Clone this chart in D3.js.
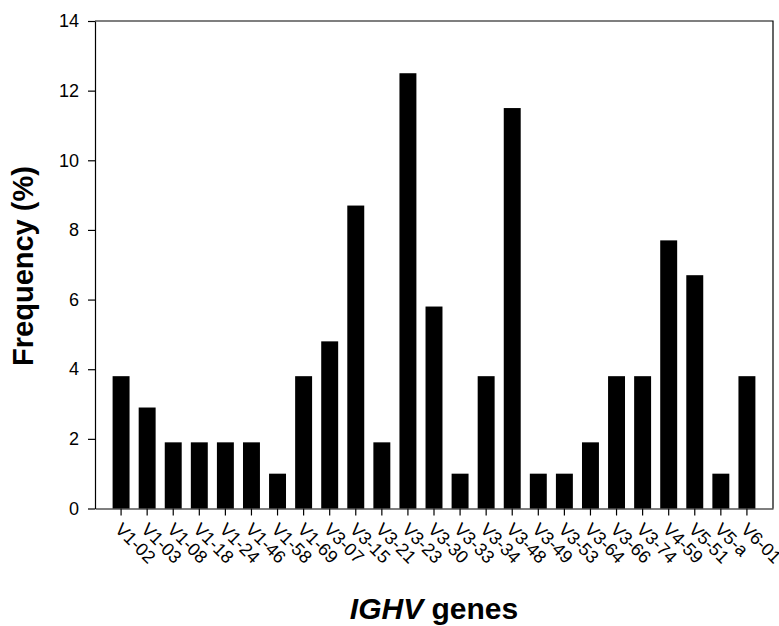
<!DOCTYPE html>
<html>
<head>
<meta charset="utf-8">
<script src="https://cdn.jsdelivr.net/npm/d3@7"></script>
<style>
  body { margin: 0; background: #fff; }
  svg { display: block; font-family: Arial, "Liberation Sans", sans-serif; }
</style>
</head>
<body>
<svg id="chart" width="779" height="626"></svg>
<script>
// IGHV gene usage
var genes = ['V1-02', 'V1-03', 'V1-08', 'V1-18', 'V1-24', 'V1-46', 'V1-58', 'V1-69',
  'V3-07', 'V3-15', 'V3-21', 'V3-23', 'V3-30', 'V3-33', 'V3-34', 'V3-48', 'V3-49',
  'V3-53', 'V3-64', 'V3-66', 'V3-74', 'V4-59', 'V5-51', 'V5-a', 'V6-01'];
var frequency = [3.8, 2.9, 1.9, 1.9, 1.9, 1.9, 1.0, 3.8,
  4.8, 8.7, 1.9, 12.5, 5.8, 1.0, 3.8, 11.5, 1.0,
  1.0, 1.9, 3.8, 3.8, 7.7, 6.7, 1.0, 3.8];
var yTicks = [0, 2, 4, 6, 8, 10, 12, 14];

(function() {
  var data = genes.map(function(g, i) { return { gene: g, value: frequency[i] }; });

  var svg = d3.select('#chart');
  var left = 95, right = 773, plotTop = 21, bottom = 508.5;

  // scales
  var x = d3.scaleBand()
    .domain(genes)
    .range([left, right])
    .paddingInner(0.35)
    .paddingOuter(0.675);
  var y = d3.scaleLinear()
    .domain([0, 14])
    .range([bottom, plotTop]);

  // bars
  svg.append('g').attr('class', 'data')
    .selectAll('rect').data(data)
    .enter()
    .append('rect')
    .attr('x', function(d) { return x(d.gene); })
    .attr('width', x.bandwidth())
    .attr('y', function(d) { return y(d.value); })
    .attr('height', function(d) { return bottom - y(d.value); })
    .attr('fill', '#000');

  // frame (top and right)
  svg.append('path')
    .attr('d', 'M' + left + ',' + plotTop + 'H' + right + 'V' + bottom)
    .attr('fill', 'none')
    .attr('stroke', '#000')
    .attr('stroke-width', 1.2);

  // y axis
  var yAxis = d3.axisLeft(y).tickValues(yTicks).tickSize(7).tickSizeOuter(0).tickPadding(9);
  var gy = svg.append('g')
    .attr('transform', 'translate(' + left + ',0)')
    .call(yAxis);
  gy.select('.domain').attr('stroke-width', 1.2);
  gy.selectAll('.tick line').attr('stroke-width', 1.2);
  gy.selectAll('.tick text')
    .attr('font-size', 18)
    .attr('font-family', 'Arial, "Liberation Sans", sans-serif')
    .attr('fill', '#000');

  // x axis
  var xAxis = d3.axisBottom(x).tickSize(7).tickSizeOuter(0);
  var gx = svg.append('g')
    .attr('transform', 'translate(0,' + bottom + ')')
    .call(xAxis);
  gx.select('.domain').attr('stroke-width', 1.2);
  gx.selectAll('.tick line').attr('stroke-width', 1.2);
  gx.selectAll('.tick text')
    .attr('font-size', 18)
    .attr('font-family', 'Arial, "Liberation Sans", sans-serif')
    .attr('fill', '#000')
    .attr('text-anchor', 'start')
    .attr('y', 0)
    .attr('dy', 0)
    .attr('transform', 'translate(-7,22) rotate(45)');

  // axis titles
  svg.append('text')
    .attr('transform', 'translate(32.5,266) rotate(-90)')
    .attr('text-anchor', 'middle')
    .attr('font-size', 29)
    .attr('font-weight', 'bold')
    .text('Frequency (%)');

  var xt = svg.append('text')
    .attr('x', 434)
    .attr('y', 619)
    .attr('text-anchor', 'middle')
    .attr('font-size', 30)
    .attr('font-weight', 'bold');
  xt.append('tspan').attr('font-style', 'italic').text('IGHV');
  xt.append('tspan').text(' genes');
})();
</script>
</body>
</html>
